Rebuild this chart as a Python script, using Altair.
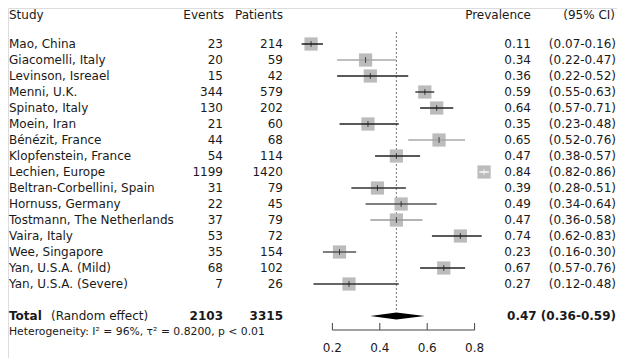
import altair as alt
import pandas as pd

studies = ["Mao, China", "Giacomelli, Italy", "Levinson, Isreael", "Menni, U.K.",
           "Spinato, Italy", "Moein, Iran", "Bénézit, France", "Klopfenstein, France",
           "Lechien, Europe", "Beltran-Corbellini, Spain", "Hornuss, Germany",
           "Tostmann, The Netherlands", "Vaira, Italy", "Wee, Singapore",
           "Yan, U.S.A. (Mild)", "Yan, U.S.A. (Severe)"]
events = [23, 20, 15, 344, 130, 21, 44, 54, 1199, 31, 22, 37, 53, 35, 68, 7]
patients = [214, 59, 42, 579, 202, 60, 68, 114, 1420, 79, 45, 79, 72, 154, 102, 26]
prevalence = [0.11, 0.34, 0.36, 0.59, 0.64, 0.35, 0.65, 0.47, 0.84, 0.39, 0.49, 0.47,
              0.74, 0.23, 0.67, 0.27]
lower = [0.07, 0.22, 0.22, 0.55, 0.57, 0.23, 0.52, 0.38, 0.82, 0.28, 0.34, 0.36,
         0.62, 0.16, 0.57, 0.12]
upper = [0.16, 0.47, 0.52, 0.63, 0.71, 0.48, 0.76, 0.57, 0.86, 0.51, 0.64, 0.58,
         0.83, 0.30, 0.76, 0.48]
line_colors = ["#111", "#a8a8a8", "#222", "#333", "#222", "#222", "#a8a8a8", "#222",
               "#ffffff", "#333", "#555", "#9a9a9a", "#222", "#555", "#222", "#333"]
tick_colors = ["#111"] * 8 + ["#ffffff"] + ["#111"] * 7

total_events = 2103
total_patients = 3315
pooled = [0.36, 0.47, 0.59]
axis_ticks = [0.2, 0.4, 0.6, 0.8]
heterogeneity = "Heterogeneity: I\u00b2 = 96%, \u03c4\u00b2 = 0.8200, p < 0.01"

n = len(studies)
df = pd.DataFrame({
    "study": studies, "events": events, "patients": patients,
    "prev": prevalence, "lo": lower, "hi": upper,
    "lc": line_colors, "tc": tick_colors,
})
df["row"] = range(n)
df["prev_txt"] = [f"{p:.2f}" for p in prevalence]
df["ci_txt"] = [f"({l:.2f}-{u:.2f})" for l, u in zip(lower, upper)]

total_row = n + 1
half = 0.22
diamond = pd.DataFrame({
    "x": pooled,
    "top": [total_row, total_row - half, total_row],
    "bot": [total_row, total_row + half, total_row],
})
total_df = pd.DataFrame({"row": [total_row], "ev": [str(total_events)],
                         "pt": [str(total_patients)],
                         "res": [f"{pooled[1]:.2f} ({pooled[0]:.2f}-{pooled[2]:.2f})"],
                         "het": [heterogeneity]})
ticks_df = pd.DataFrame({"t": axis_ticks, "lab": [f"{t:.1f}" for t in axis_ticks]})
axis_df = pd.DataFrame({"a": [axis_ticks[0]], "b": [axis_ticks[-1]]})
ref_df = pd.DataFrame({"x": [pooled[1]]})

FONT = "DejaVu Sans"
TXT = "#1a1a1a"
FS = 12

xs = alt.Scale(domain=[0, 1], range=[277, 514], nice=False, zero=False)
ys = alt.Scale(domain=[0, 17], range=[36, 308], nice=False, zero=False)

base = alt.Chart(df)
Y = alt.Y("row:Q", scale=ys, axis=None)

ref = alt.Chart(ref_df).mark_rule(color="#777", strokeDash=[2, 2], strokeWidth=1).encode(
    x=alt.X("x:Q", scale=xs, axis=None), y=alt.value(24), y2=alt.value(304))

boxes = base.mark_square(size=175, color="#bcbcbc", opacity=1).encode(
    x=alt.X("prev:Q", scale=xs, axis=None), y=Y)
ci = base.mark_rule(strokeWidth=1.4).encode(
    x=alt.X("lo:Q", scale=xs, axis=None), x2="hi:Q", y=Y,
    color=alt.Color("lc:N", scale=None))
cent = base.mark_tick(orient="vertical", size=6, thickness=1).encode(
    x=alt.X("prev:Q", scale=xs, axis=None), y=Y,
    color=alt.Color("tc:N", scale=None))

dia = alt.Chart(diamond).mark_area(color="black", opacity=1).encode(
    x=alt.X("x:Q", scale=xs, axis=None),
    y=alt.Y("top:Q", scale=ys, axis=None), y2="bot:Q")

def col_text(field, xpix, align, bold=False, data=None):
    d = df if data is None else data
    return alt.Chart(d).mark_text(align=align, baseline="middle", font=FONT, fontSize=FS,
                                  color=TXT, fontWeight="bold" if bold else "normal").encode(
        x=alt.value(xpix), y=alt.Y("row:Q", scale=ys, axis=None), text=f"{field}:N")

PREV_X = 523
CI_X = 608

t_study = col_text("study", 1, "left")
t_ev = col_text("events", 215, "right")
t_pt = col_text("patients", 275, "right")
t_prev = col_text("prev_txt", PREV_X, "right")
t_ci = col_text("ci_txt", CI_X, "right")

tot_lab = alt.Chart(total_df).mark_text(align="left", baseline="middle", font=FONT,
                                        fontSize=FS, color=TXT, fontWeight="bold").encode(
    x=alt.value(1), y=alt.Y("row:Q", scale=ys, axis=None), text=alt.value("Total"))
tot_lab2 = alt.Chart(total_df).mark_text(align="left", baseline="middle", font=FONT,
                                         fontSize=FS, color=TXT).encode(
    x=alt.value(43), y=alt.Y("row:Q", scale=ys, axis=None), text=alt.value("(Random effect)"))
tot_ev = col_text("ev", 215, "right", True, total_df)
tot_pt = col_text("pt", 275, "right", True, total_df)
tot_res = col_text("res", CI_X, "right", True, total_df)
het = alt.Chart(total_df).mark_text(align="left", baseline="middle", font=FONT,
                                    fontSize=10.8, color=TXT).encode(
    x=alt.value(1), y=alt.value(324), text="het:N")

headers = pd.DataFrame({"h": ["Study", "Events", "Patients", "Prevalence", "(95% CI)"],
                        "px": [1, 216, 275, PREV_X, CI_X - 1],
                        "al": ["left", "right", "right", "right", "right"]})
hdr_layers = []
for h, px, al in zip(headers["h"], headers["px"], headers["al"]):
    hdr_layers.append(alt.Chart(pd.DataFrame({"h": [h]})).mark_text(
        align=al, baseline="middle", font=FONT, fontSize=FS, color=TXT).encode(
        x=alt.value(int(px)), y=alt.value(7), text="h:N"))

ax_line = alt.Chart(axis_df).mark_rule(color="#444", strokeWidth=1).encode(
    x=alt.X("a:Q", scale=xs, axis=None), x2="b:Q", y=alt.value(322))
ax_ticks = alt.Chart(ticks_df).mark_rule(color="#444", strokeWidth=1).encode(
    x=alt.X("t:Q", scale=xs, axis=None), y=alt.value(315), y2=alt.value(322))
ax_labs = alt.Chart(ticks_df).mark_text(baseline="middle", align="center", font=FONT,
                                        fontSize=FS, color=TXT).encode(
    x=alt.X("t:Q", scale=xs, axis=None), y=alt.value(340), text="lab:N")

chart = alt.layer(
    ref, boxes, ci, cent, dia, t_study, t_ev, t_pt, t_prev, t_ci,
    tot_lab, tot_lab2, tot_ev, tot_pt, tot_res, het, *hdr_layers,
    ax_line, ax_ticks, ax_labs
).properties(
    width=609, height=350, autosize=alt.AutoSizeParams(type="none"), padding=0
).configure_view(stroke=None).configure(background="white")

chart.save("out.html", embed_options={"renderer": "svg", "actions": False})
